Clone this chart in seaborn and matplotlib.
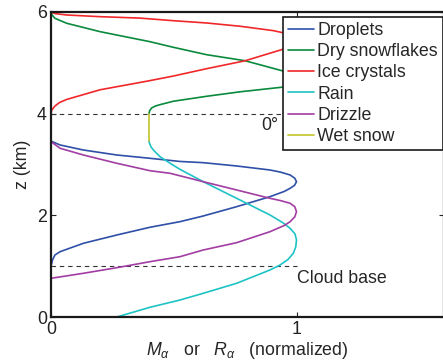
import matplotlib
matplotlib.use("Agg")
import matplotlib.pyplot as plt
import seaborn as sns
import pandas as pd

# ---- data (x = normalized M/R, z = height km) ----
droplets_x = [0, 0.006, 0.016, 0.037, 0.132, 0.268, 0.403, 0.525, 0.620, 0.756, 0.892, 0.950, 0.974, 0.992, 1.0,
              0.993, 0.974, 0.935, 0.892, 0.756, 0.620, 0.525, 0.403, 0.268, 0.132, 0.037, 0]
droplets_z = [1.00, 1.12, 1.22, 1.285, 1.45, 1.613, 1.765, 1.875, 1.987, 2.17, 2.367, 2.47, 2.532, 2.59, 2.662,
              2.73, 2.794, 2.85, 2.892, 2.971, 3.036, 3.06, 3.122, 3.187, 3.285, 3.384, 3.46]

drizzle_x = [0, 0.132, 0.268, 0.403, 0.525, 0.620, 0.756, 0.892, 0.950, 0.974, 0.993, 1.0,
             0.993, 0.974, 0.935, 0.892, 0.756, 0.620, 0.485, 0.403, 0.268, 0.132, 0.037, 0]
drizzle_z = [0.761, 0.86, 0.97, 1.088, 1.186, 1.318, 1.462, 1.678, 1.80, 1.875, 1.97, 2.072,
             2.17, 2.237, 2.29, 2.335, 2.499, 2.662, 2.827, 2.878, 3.024, 3.187, 3.319, 3.449]

rain_x = [0.399, 0.401, 0.407, 0.417, 0.444, 0.485, 0.525, 0.620, 0.756, 0.892, 0.946, 0.974, 0.994, 1.0,
          0.997, 0.987, 0.965, 0.933, 0.892, 0.756, 0.620, 0.525, 0.403, 0.268]
rain_z = [3.463, 3.42, 3.35, 3.285, 3.154, 3.024, 2.906, 2.662, 2.335, 2.007, 1.85, 1.745, 1.633, 1.515,
          1.38, 1.253, 1.13, 1.023, 0.925, 0.663, 0.466, 0.334, 0.191, 0.0]

wetsnow_x = [0.399, 0.399]
wetsnow_z = [3.463, 4.0]

snow_x = [0.399, 0.402, 0.41, 0.425, 0.444, 0.498, 0.634, 0.770, 0.940, 0.985, 1.0,
          0.985, 0.940, 0.790, 0.634, 0.498, 0.403, 0.2, 0.064, 0.016, 0.003, 0]
snow_z = [4.0, 4.06, 4.112, 4.15, 4.177, 4.244, 4.342, 4.43, 4.52, 4.59, 4.67,
          4.76, 4.846, 5.042, 5.16, 5.306, 5.416, 5.613, 5.778, 5.876, 5.95, 6.0]

ice_x = [0, 0.003, 0.016, 0.035, 0.064, 0.2, 0.403, 0.498, 0.634, 0.790, 0.940, 0.985, 1.0,
         0.985, 0.940, 0.906, 0.770, 0.634, 0.498, 0.363, 0.2, 0.064, 0.015, 0]
ice_z = [4.0, 4.07, 4.15, 4.22, 4.28, 4.47, 4.65, 4.74, 4.885, 5.04, 5.26, 5.35, 5.43,
         5.52, 5.597, 5.633, 5.72, 5.784, 5.829, 5.88, 5.908, 5.941, 5.97, 6.0]

series_order = ["Droplets", "Dry snowflakes", "Ice crystals", "Rain", "Drizzle", "Wet snow"]
series_data = {
    "Droplets": (droplets_x, droplets_z),
    "Dry snowflakes": (snow_x, snow_z),
    "Ice crystals": (ice_x, ice_z),
    "Rain": (rain_x, rain_z),
    "Drizzle": (drizzle_x, drizzle_z),
    "Wet snow": (wetsnow_x, wetsnow_z),
}
colors = {
    "Droplets": "#2f4fa8",
    "Dry snowflakes": "#0a8a3c",
    "Ice crystals": "#f0282a",
    "Rain": "#1ec3c6",
    "Drizzle": "#a23da3",
    "Wet snow": "#c2c22a",
}

freezing_level = 4.0
cloud_base = 1.0
xticks = [0, 1]
yticks = [0, 2, 4, 6]

# ---- style ----
sns.set_style("ticks")
plt.rcParams["font.family"] = ["Liberation Sans", "DejaVu Sans"]
plt.rcParams["mathtext.fontset"] = "custom"
plt.rcParams["mathtext.rm"] = "Liberation Sans"
plt.rcParams["mathtext.it"] = "Liberation Sans:italic"
plt.rcParams["xtick.direction"] = "in"
plt.rcParams["ytick.direction"] = "in"

FS = 12.8

fig = plt.figure(figsize=(4.43, 3.61), dpi=100)
W, H = 443, 361
x0, x1 = 51, 443.8
ytop, ybot = 12, 317
ax = fig.add_axes([x0 / W, (H - ybot) / H, (x1 - x0) / W, (ybot - ytop) / H])

# reference lines
ax.plot([0, 1.0], [freezing_level, freezing_level], ls=(0, (4, 3.5)), color="#333333", lw=0.8, zorder=1)
ax.plot([0, 1.0], [cloud_base, cloud_base], ls=(0, (4, 3.5)), color="#333333", lw=0.8, zorder=1)

for name in series_order:
    xs, zs = series_data[name]
    df = pd.DataFrame({"x": xs, "z": zs})
    sns.lineplot(data=df, x="x", y="z", sort=False, estimator=None, ax=ax,
                 color=colors[name], lw=1.2, label=name, zorder=2)

ax.set_xlim(0, 1.6)
ax.set_ylim(0, 6)
ax.set_xticks(xticks)
ax.set_yticks(yticks)
ax.tick_params(axis="both", which="both", direction="in", length=3.5, width=0.8,
               labelsize=FS, top=True, right=True, colors="#222222", pad=3)
for s in ax.spines.values():
    s.set_linewidth(1.6)
    s.set_color("#1a1a1a")

ax.set_xlabel(r"$M_{\alpha}$   or   $R_{\alpha}$   (normalized)", fontsize=FS, labelpad=1)
ax.set_ylabel("z (km)", fontsize=FS, labelpad=4)

ax.text(0.925, 3.93, "0°", ha="right", va="top", fontsize=FS)
ax.text(1.003, 0.92, "Cloud base", ha="left", va="top", fontsize=FS)

leg = ax.legend(loc="upper left", bbox_to_anchor=(283 / W, 1 - 17 / H),
                bbox_transform=fig.transFigure, borderaxespad=0, frameon=True,
                fancybox=False, framealpha=1, edgecolor="#1a1a1a", fontsize=FS,
                handlelength=1.5, handletextpad=0.17, labelspacing=0.24,
                borderpad=0.27)
leg.get_frame().set_linewidth(1.2)
leg.set_zorder(5)

fig.savefig("out.png", dpi=100)
